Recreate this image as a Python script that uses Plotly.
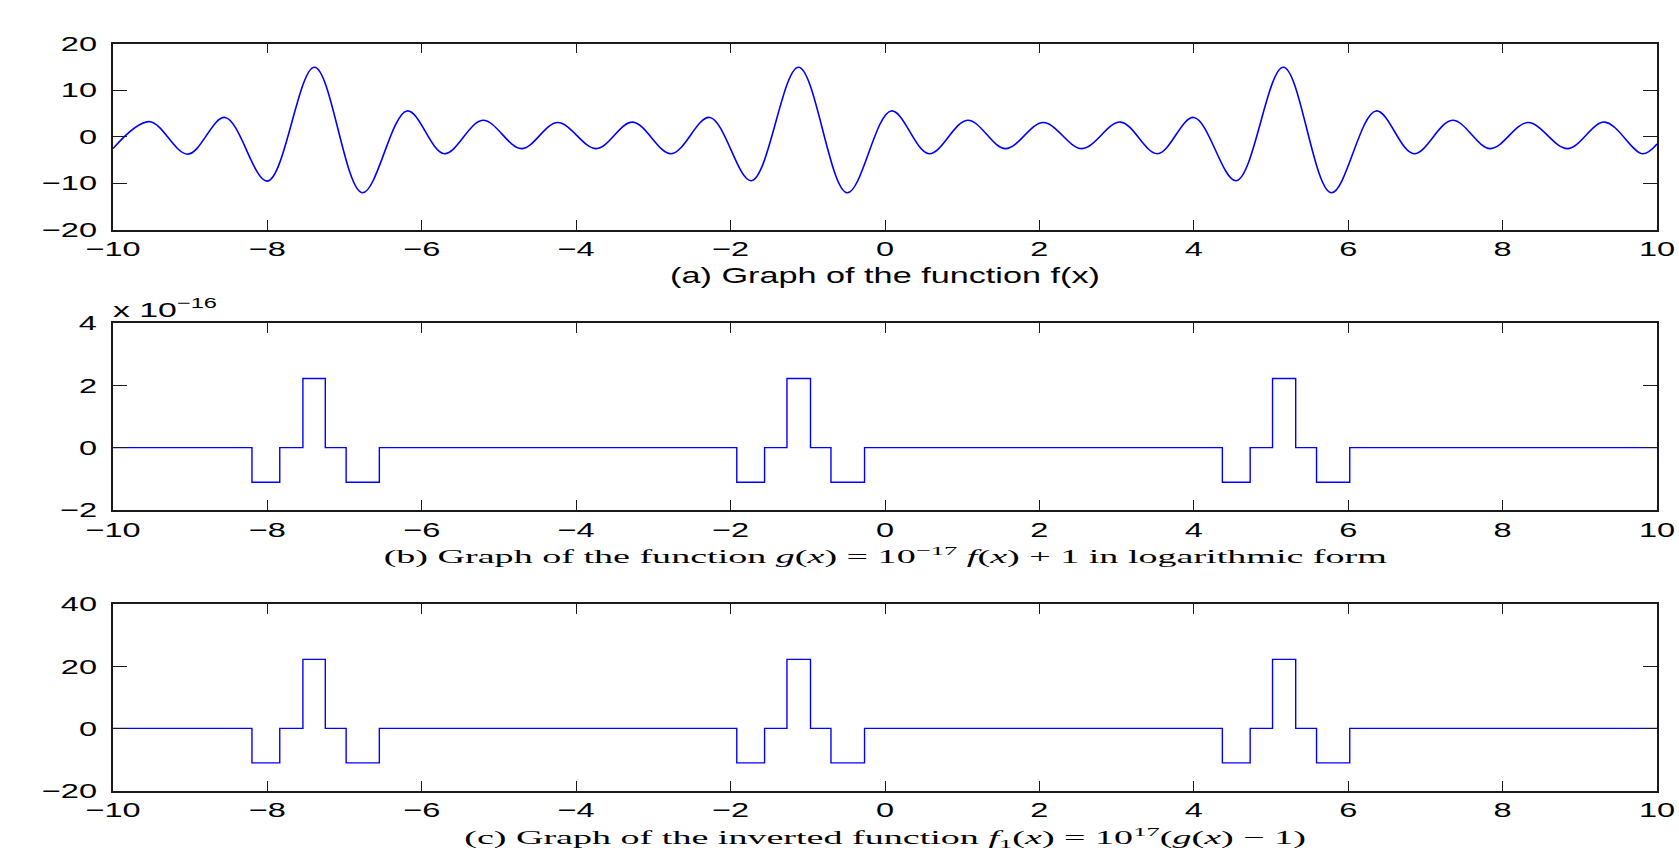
import plotly.graph_objects as go

# ---------------- data ----------------
# (a) f(x): local extrema of the curve (x, value)
f_x = [-10.0, -9.53, -9.03, -8.55, -8.00, -7.39, -6.77, -6.19, -5.71, -5.21, -4.71,
       -4.24, -3.74, -3.27, -2.77, -2.27, -1.73, -1.12, -0.49, 0.08, 0.57,
       1.07, 1.56, 2.05, 2.55, 3.05, 3.53, 4.00, 4.55, 5.16, 5.78,
       6.36, 6.85, 7.35, 7.84, 8.33, 8.84, 9.32, 9.81, 10.0]
f_y = [-2.6, 3.2, -3.8, 4.1, -9.6, 14.9, -12.1, 5.5, -3.7, 3.5, -2.6,
       3.0, -2.6, 3.1, -3.7, 4.1, -9.5, 14.9, -12.1, 5.5, -3.7,
       3.5, -2.6, 3.0, -2.6, 3.1, -3.7, 4.1, -9.5, 14.9, -12.1,
       5.5, -3.7, 3.5, -2.6, 3.0, -2.6, 3.1, -3.7, -1.6]

# (b) g(x)-1 step function, in units of 1e-16 (value holds from each x to the next)
step_x = [-10.0, -8.20, -7.84, -7.54, -7.25, -6.98, -6.55, -1.92, -1.56, -1.27,
          -0.965, -0.70, -0.265, 4.37, 4.73, 5.02, 5.32, 5.59, 6.02, 10.0]
g_y = [0, -1.11, 0, 2.22, 0, -1.11, 0, -1.11, 0, 2.22,
       0, -1.11, 0, -1.11, 0, 2.22, 0, -1.11, 0, 0]
# (c) f1(x) = 1e17 (g(x) - 1)
f1_y = [0, -11.1, 0, 22.2, 0, -11.1, 0, -11.1, 0, 22.2,
        0, -11.1, 0, -11.1, 0, 22.2, 0, -11.1, 0, 0]

x_ticks = [-10, -8, -6, -4, -2, 0, 2, 4, 6, 8, 10]
ya_ticks = [-20, -10, 0, 10, 20]
yb_ticks = [-2, 0, 2, 4]
yc_ticks = [-20, 0, 20, 40]

captions = ["(a) Graph of the function f(x)",
            "(b) Graph of the function <i>g</i>(<i>x</i>) = 10<sup>−17</sup> <i>f</i>(<i>x</i>) + 1 in logarithmic form",
            "(c) Graph of the inverted function <i>f</i><sub>1</sub>(<i>x</i>) = 10<sup>17</sup>(<i>g</i>(<i>x</i>) − 1)"]
exp_label = "x 10<sup>−16</sup>"

# ---------------- figure ----------------
W, H = 1679, 857
def py(p):  # pixel row -> paper fraction (t=b=0 margins)
    return 1 - p / H

BLUE = "#0000ff"
AX = "#1a1a1a"
SANS = "Liberation Sans"
SERIF = "Liberation Serif"

fig = go.Figure()
fig.add_trace(go.Scatter(x=f_x, y=f_y, mode="lines", xaxis="x", yaxis="y",
                         line=dict(color=BLUE, width=1.6, shape="spline", smoothing=1.0),
                         showlegend=False))
fig.add_trace(go.Scatter(x=step_x, y=g_y, mode="lines", xaxis="x2", yaxis="y2",
                         line=dict(color=BLUE, width=1.4, shape="hv"), showlegend=False))
fig.add_trace(go.Scatter(x=step_x, y=f1_y, mode="lines", xaxis="x3", yaxis="y3",
                         line=dict(color=BLUE, width=1.4, shape="hv"), showlegend=False))

tickfont = dict(family=SANS, size=21, color="#000")
def xax(anchor):
    return dict(range=[-10, 10], tickvals=x_ticks, domain=[0, 1], anchor=anchor,
                showline=True, mirror="ticks", linecolor=AX, linewidth=1.6,
                ticks="inside", ticklen=10, tickwidth=1.2, tickcolor=AX,
                showgrid=False, zeroline=False, tickfont=tickfont,
                ticklabelstandoff=0)
def yax(anchor, rng, tv, dom):
    return dict(range=rng, tickvals=tv, domain=dom, anchor=anchor,
                showline=True, mirror="ticks", linecolor=AX, linewidth=1.6,
                ticks="inside", ticklen=14, tickwidth=1.2, tickcolor=AX,
                showgrid=False, zeroline=False, tickfont=tickfont,
                ticklabelstandoff=10)

dom_a = [py(229.5), py(43.5)]
dom_b = [py(510), py(323)]
dom_c = [py(790.5), py(604)]

fig.update_layout(
    width=W, height=H,
    margin=dict(l=113, r=22, t=0, b=0, autoexpand=False),
    paper_bgcolor="white", plot_bgcolor="white",
    xaxis=xax("y"), yaxis=yax("x", [-20, 20], ya_ticks, dom_a),
    xaxis2=xax("y2"), yaxis2=yax("x2", [-2, 4], yb_ticks, dom_b),
    xaxis3=xax("y3"), yaxis3=yax("x3", [-20, 40], yc_ticks, dom_c),
)

ann = [
    dict(text=captions[0], x=0.5, y=py(276), font=dict(family=SANS, size=21.5, color="#000")),
    dict(text=captions[1], x=0.5, y=py(555), font=dict(family=SERIF, size=19, color="#000")),
    dict(text=captions[2], x=0.5, y=py(837), font=dict(family=SERIF, size=19, color="#000")),
]
for a in ann:
    fig.add_annotation(xref="paper", yref="paper", showarrow=False,
                       xanchor="center", yanchor="middle", **a)
fig.add_annotation(xref="paper", yref="paper", x=-0.001, y=py(308), xanchor="left", yanchor="middle",
                   showarrow=False, text=exp_label,
                   font=dict(family=SANS, size=21, color="#000"))

# The reference's lettering is horizontally stretched (wide aspect export);
# reproduce that by widening each text element around its anchor point.
post = """
document.body.style.margin='0';
document.body.style.overflow='hidden';
var gd = document.getElementById('{plot_id}');
function stretch(el, s, mode){
  var bb = el.getBBox();
  var anc = mode || el.getAttribute('text-anchor') || 'start';
  var ax = anc==='middle' ? bb.x+bb.width/2 : (anc==='end' ? bb.x+bb.width : bb.x);
  var t = el.getAttribute('transform') || '';
  el.setAttribute('transform', t+' translate('+ax+',0) scale('+s+',1) translate('+(-ax)+',0)');
}
gd.querySelectorAll('g.xtick text, g.x2tick text, g.x3tick text, g.ytick text, g.y2tick text, g.y3tick text')
  .forEach(function(el){ stretch(el, 1.55); });
var targets = [430, 1004, 842, 104];
gd.querySelectorAll('g.annotation').forEach(function(g){
  var i = +g.getAttribute('data-index');
  var el = g.querySelector('text.annotation-text');
  if(!el) return;
  var w = el.getBBox().width;
  var s = (w > 0 && targets[i]) ? targets[i]/w : 1.5;
  stretch(el, s, i===3 ? 'start' : 'middle');
});
"""

fig.write_html("out.html", config={"displayModeBar": False}, post_script=post)
